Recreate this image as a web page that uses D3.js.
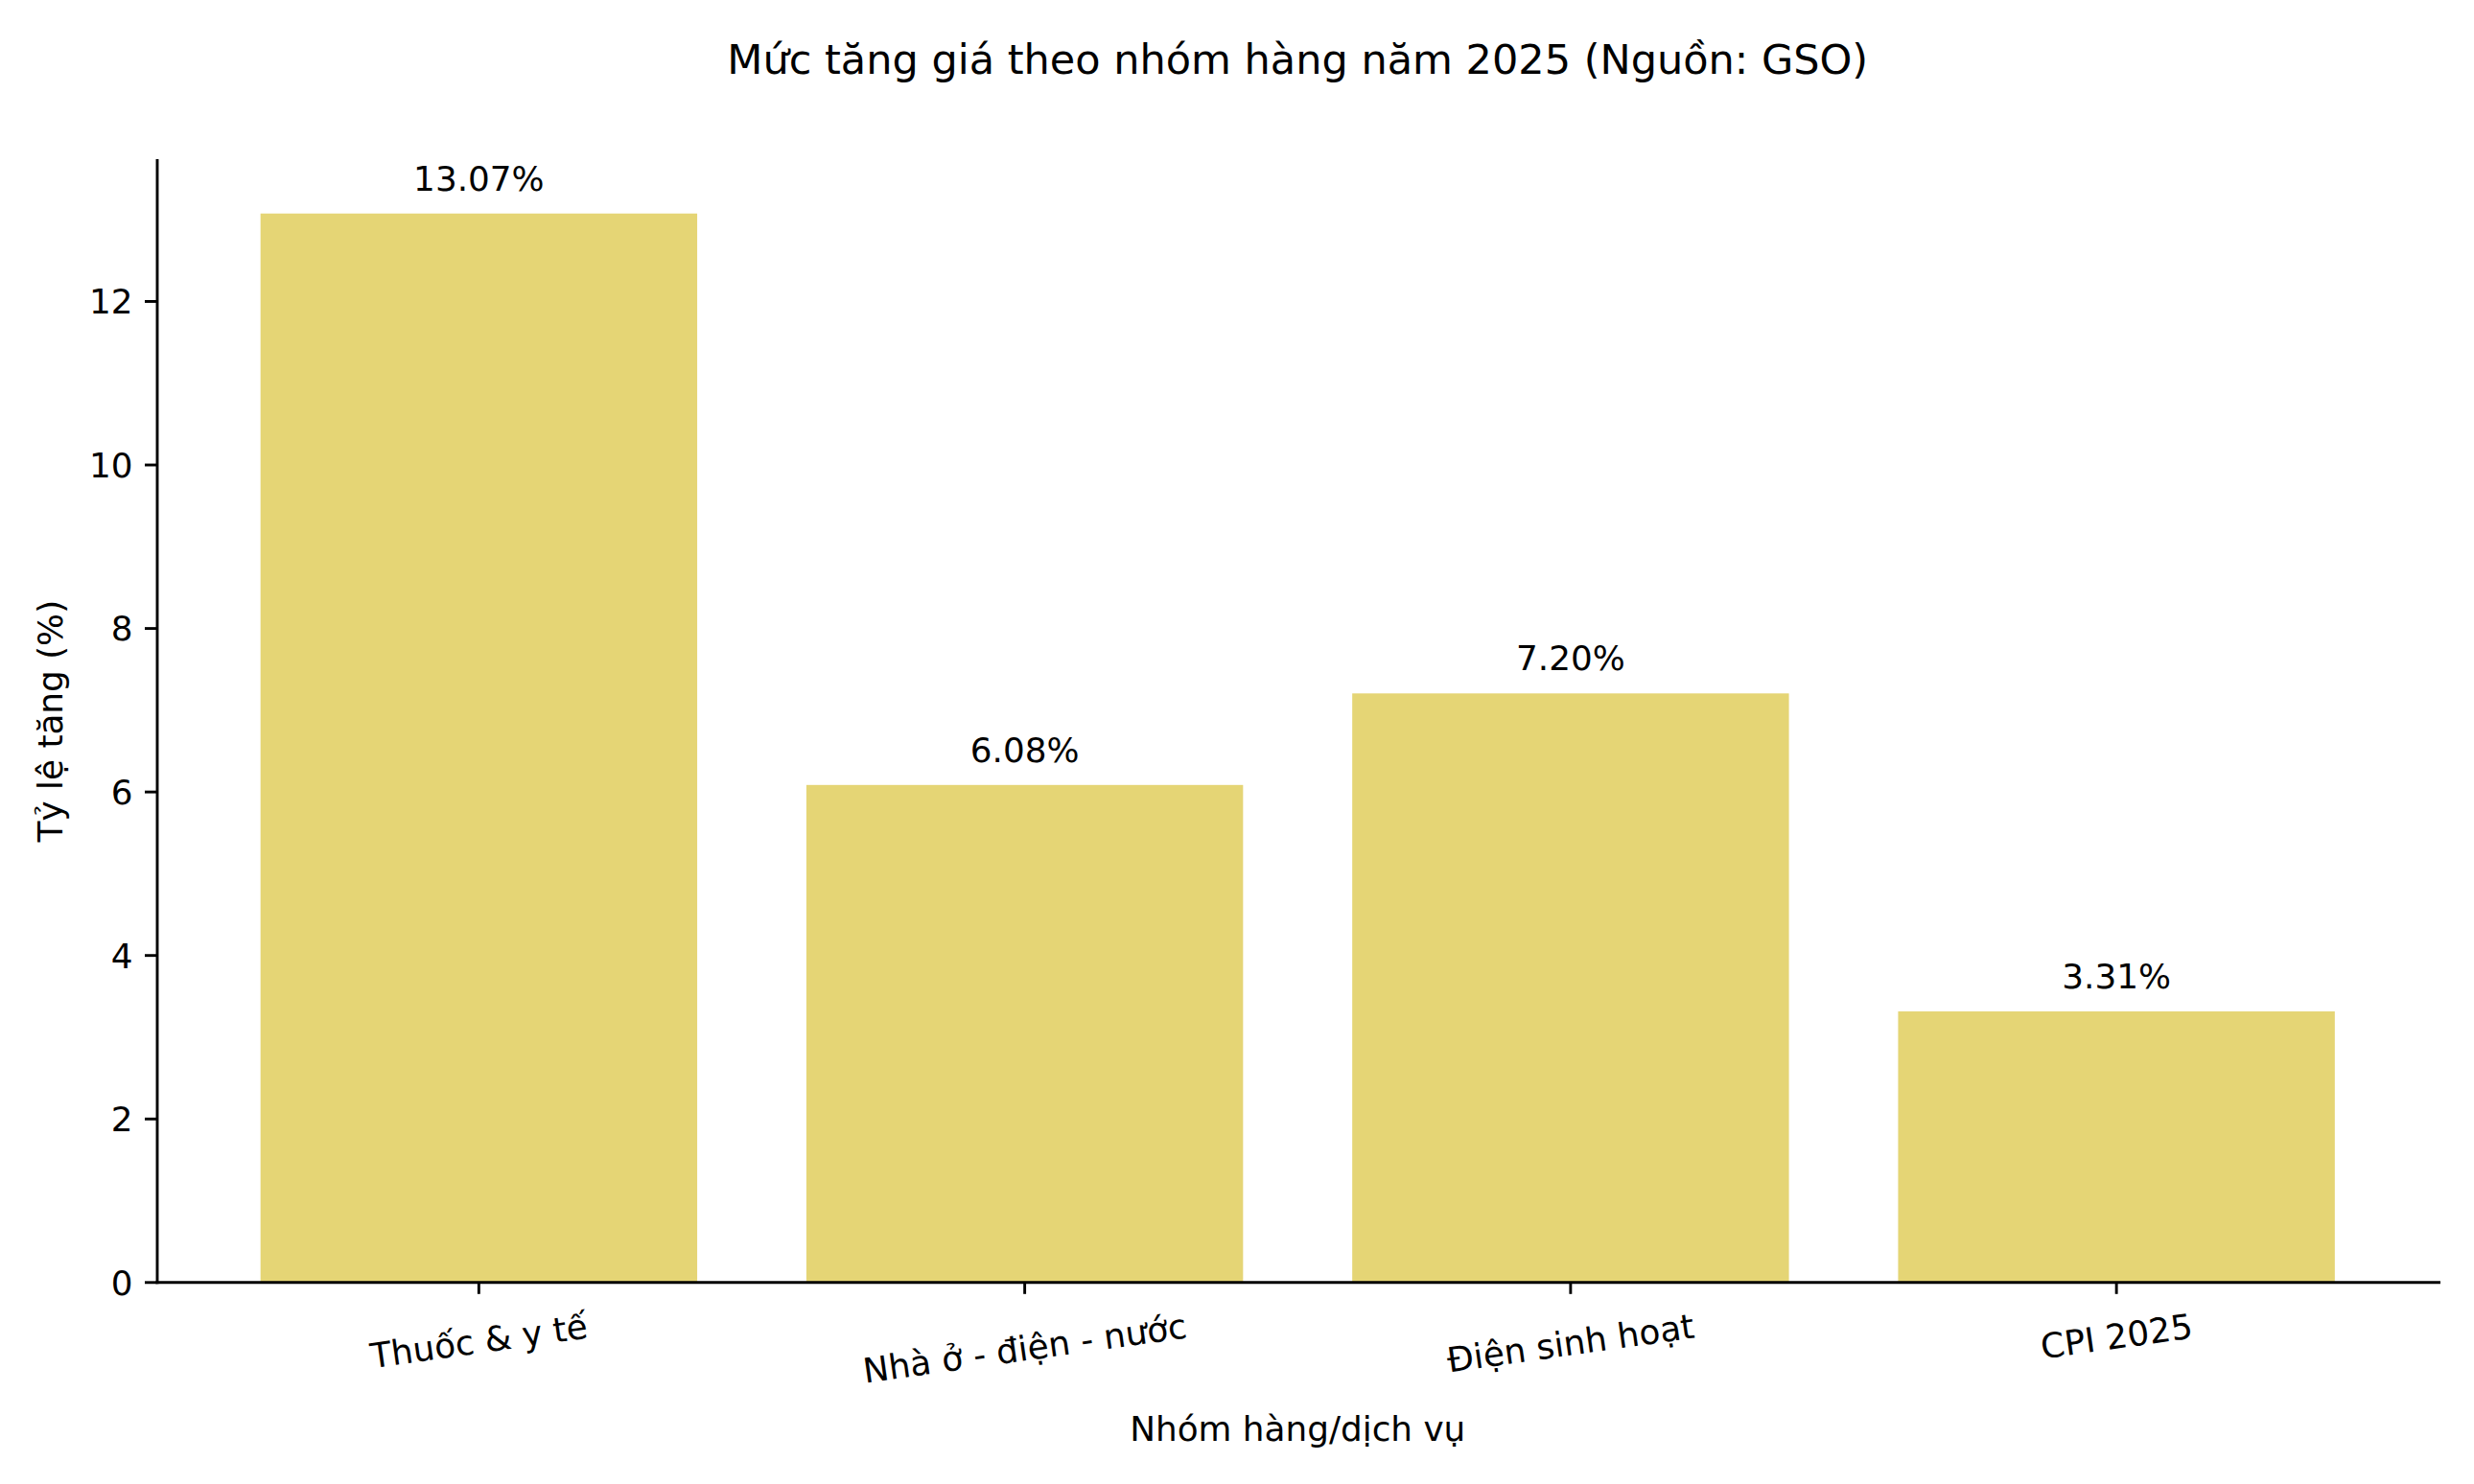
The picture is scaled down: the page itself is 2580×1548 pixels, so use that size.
<!DOCTYPE html>
<html>
<head>
<meta charset="utf-8">
<script src="https://cdn.jsdelivr.net/npm/d3@7"></script>
<style>
  body { margin: 0; background: #fff; }
  text { font-family: "DejaVu Sans", sans-serif; fill: #000; }
</style>
</head>
<body>
<div id="chart"></div>
<script>
// data
var categories = ["Thuốc & y tế", "Nhà ở - điện - nước", "Điện sinh hoạt", "CPI 2025"];
var values = [13.07, 6.08, 7.20, 3.31];
var yTicks = [0, 2, 4, 6, 8, 10, 12];

var svgWidth = 2580;
var svgHeight = 1548;

// plot area in pixels
var plotLeft = 163.5, plotRight = 2543, plotTop = 167, plotBottom = 1337.3;
var fontSize = 35.8;
var tickLen = 12.5, tickPad = 12.5, lineW = 2.9;
var labelAngle = 8;

var svg = d3.select("#chart")
  .append("svg")
  .attr("width", svgWidth)
  .attr("height", svgHeight);

svg.append("rect")
  .attr("width", svgWidth)
  .attr("height", svgHeight)
  .attr("fill", "#fff");

var data = categories.map(function(c, i) { return { cat: c, val: values[i] }; });

var x = d3.scaleBand()
  .domain(categories)
  .range([plotLeft, plotRight])
  .paddingInner(0.2)
  .paddingOuter(0.19);

var y = d3.scaleLinear()
  .domain([0, d3.max(values) * 1.05])
  .range([plotBottom, plotTop]);

// bars
svg.selectAll("rect.bar")
  .data(data)
  .enter()
  .append("rect")
  .attr("class", "bar")
  .attr("x", d => x(d.cat))
  .attr("y", d => y(d.val))
  .attr("width", x.bandwidth())
  .attr("height", d => y(0) - y(d.val))
  .attr("fill", "#e5d575");

// value labels
svg.selectAll("text.val")
  .data(data)
  .enter()
  .append("text")
  .attr("class", "val")
  .attr("x", d => x(d.cat) + x.bandwidth() / 2)
  .attr("y", d => y(d.val) - 24)
  .attr("text-anchor", "middle")
  .style("font-size", fontSize + "px")
  .text(d => d.val.toFixed(2) + "%");

// y axis
var yAxis = svg.append("g")
  .attr("transform", `translate(${plotLeft},0)`)
  .call(d3.axisLeft(y).tickValues(yTicks).tickSize(tickLen).tickSizeOuter(0).tickPadding(tickPad));

// x axis
var xAxis = svg.append("g")
  .attr("transform", `translate(0,${plotBottom})`)
  .call(d3.axisBottom(x).tickSize(tickLen).tickSizeOuter(0).tickPadding(tickPad));

[xAxis, yAxis].forEach(function(g) {
  g.select(".domain").attr("stroke", "#000").attr("stroke-width", lineW).attr("stroke-linecap", "square");
  g.selectAll(".tick line").attr("stroke", "#000").attr("stroke-width", lineW);
  g.selectAll(".tick text")
    .style("font-family", "DejaVu Sans")
    .style("font-size", fontSize + "px")
    .attr("fill", "#000");
});

yAxis.selectAll(".tick text").attr("dy", "0.36em");

// rotated category labels, bbox top sits under the tick
var ang = labelAngle * Math.PI / 180;
xAxis.selectAll(".tick text").each(function() {
  var t = d3.select(this);
  t.attr("y", 0).attr("dy", "0.36em").attr("text-anchor", "middle");
  var bb = this.getBBox();
  var h = bb.width * Math.sin(ang) + bb.height * Math.cos(ang);
  t.attr("transform", `translate(0,${tickLen + tickPad + h / 2}) rotate(${-labelAngle})`);
});

// title
svg.append("text")
  .attr("x", (plotLeft + plotRight) / 2)
  .attr("y", 77.3)
  .attr("text-anchor", "middle")
  .style("font-size", "43px")
  .text("Mức tăng giá theo nhóm hàng năm 2025 (Nguồn: GSO)");

// axis titles
svg.append("text")
  .attr("x", (plotLeft + plotRight) / 2)
  .attr("y", 1502.7)
  .attr("text-anchor", "middle")
  .style("font-size", fontSize + "px")
  .text("Nhóm hàng/dịch vụ");

svg.append("text")
  .attr("transform", `translate(65,${(plotTop + plotBottom) / 2}) rotate(-90)`)
  .attr("text-anchor", "middle")
  .style("font-size", fontSize + "px")
  .text("Tỷ lệ tăng (%)");
</script>
</body>
</html>
